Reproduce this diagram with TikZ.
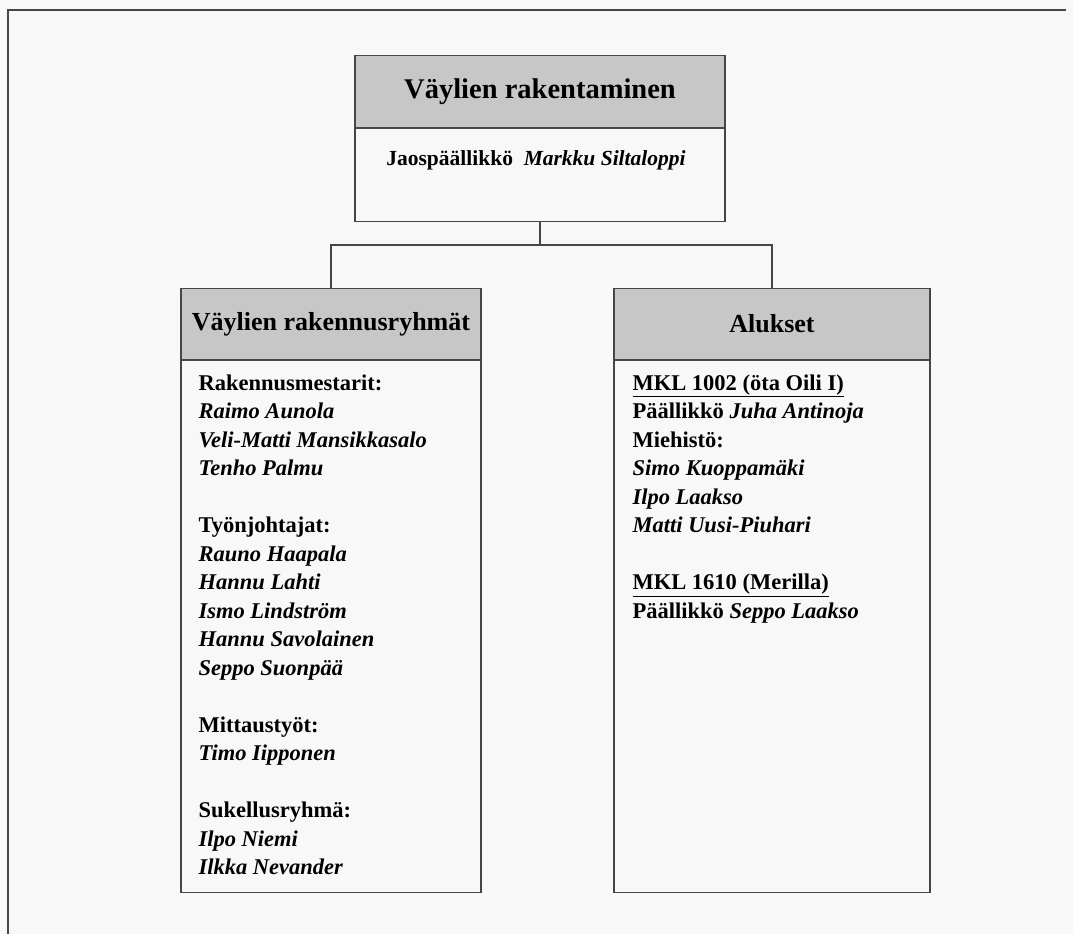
\documentclass[tikz,border=0pt]{standalone}
\usepackage{fontspec}
\setmainfont{Liberation Serif}
\usetikzlibrary{positioning}
\definecolor{paper}{RGB}{248,248,248}
\definecolor{rule}{RGB}{70,70,70}
\tikzset{
  head/.style={draw=rule, line width=1.2pt, fill=black!22, minimum height=71pt, inner sep=0pt,
    font=\fontsize{26}{30}\selectfont\bfseries},
  body/.style={draw=rule, line width=1.2pt, inner sep=0pt},
  names/.style={align=left, inner sep=0pt, anchor=north west,
    font=\fontsize{22.5}{28.5}\selectfont\bfseries},
}

\begin{document}
\begin{tikzpicture}[x=1pt,y=-1pt]
      \fill[paper] (0,0) rectangle (1073,934);
      \useasboundingbox (0,0) rectangle (1073,934);
      \draw[rule, line width=1.5pt] (8,934) -- (8,10) -- (1066,10);

      % top box
      \node[head, minimum width=370pt, minimum height=72pt, anchor=north, font=\fontsize{28.5}{32}\selectfont\bfseries] (tophead) at (540,55) {Väylien rakentaminen};
      \node[body, minimum width=370pt, minimum height=93pt, below=0pt of tophead] (topbody) {};
      \node[names, anchor=center, font=\fontsize{21.5}{28}\selectfont\bfseries] (chief) at (536,160) {Jaospäällikkö\ \ \textit{Markku Siltaloppi}};

      % groups
      \node[head, minimum width=300pt, anchor=north] (lhead) at (331,288) {Väylien rakennusryhmät};
      \node[body, minimum width=300pt, minimum height=532pt, below=0pt of lhead] (lbody) {};
      \node[names] (ltxt) at ([xshift=18pt, yshift=-14pt]lbody.north west) {Rakennusmestarit:\\
        \textit{Raimo Aunola}\\ \textit{Veli-Matti Mansikkasalo}\\ \textit{Tenho Palmu}\\[28.5pt]
        Työnjohtajat:\\ \textit{Rauno Haapala}\\ \textit{Hannu Lahti}\\ \textit{Ismo Lindström}\\
        \textit{Hannu Savolainen}\\ \textit{Seppo Suonpää}\\[28.5pt]
        Mittaustyöt:\\ \textit{Timo Iipponen}\\[28.5pt]
        Sukellusryhmä:\\ \textit{Ilpo Niemi}\\ \textit{Ilkka Nevander}};

      % ships
      \node[head, minimum width=316pt, anchor=north] (rhead) at (772,288) {Alukset};
      \node[body, minimum width=316pt, minimum height=532pt, below=0pt of rhead] (rbody) {};
      \node[names] (rtxt) at ([xshift=19pt, yshift=-14pt]rbody.north west) {\underline{MKL 1002 (öta Oili I)}\\
        Päällikkö \textit{Juha Antinoja}\\ Miehistö:\\ \textit{Simo Kuoppamäki}\\
        \textit{Ilpo Laakso}\\ \textit{Matti Uusi-Piuhari}\\[28.5pt]
        \underline{MKL 1610 (Merilla)}\\ Päällikkö \textit{Seppo Laakso}};

      \coordinate (fork) at (540,245);
      \draw[rule, line width=1.2pt] (topbody.south) -- (fork);
      \draw[rule, line width=1.2pt] (lhead.north) |- (fork) -| (rhead.north);
\end{tikzpicture}
\end{document}
